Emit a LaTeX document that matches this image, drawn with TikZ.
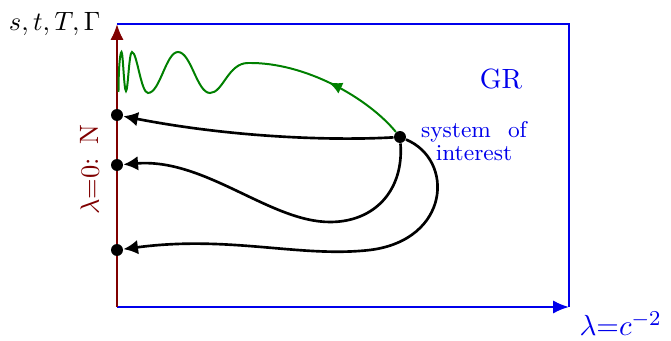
\documentclass[tikz,border=0pt]{standalone}
\usetikzlibrary{arrows.meta,decorations.markings}
\definecolor{axred}{RGB}{128,0,0}
\definecolor{grblue}{RGB}{0,0,235}
\definecolor{wgreen}{RGB}{0,128,0}
\begin{document}
\begin{tikzpicture}[x=0.3774pt,y=-0.3774pt,
  dot/.style={circle,fill=black,inner sep=0pt,minimum size=4.5pt},
  axisline/.style={axred,line width=0.8pt},
  frameline/.style={grblue,line width=0.8pt},
  bigtip/.style={-{Latex[length=6pt,width=5pt]}},
  worldline/.style={black,line width=1pt,-{Latex[length=5.5pt,width=5.5pt]}},
  signal/.style={wgreen,line width=0.75pt},
  lbl/.style={inner sep=0pt}]
\useasboundingbox (0,0) rectangle (671,341);
% frame and axis
\coordinate (O) at (117,307);
\coordinate (top) at (117,24);
\coordinate (tr) at (569,24);
\coordinate (br) at (569,307);
\draw[frameline] (top) -- (tr) -- (br);
\draw[frameline,bigtip] (O) -- (br);
\draw[axisline,bigtip] (O) -- (top);
% dots
\node[dot] (d1) at (117,115) {};
\node[dot] (d2) at (117,165) {};
\node[dot] (d3) at (117,250) {};
\node[dot] (sys) at (400,137) {};
% world lines
\draw[worldline] (sys) .. controls (330,141) and (230,137) .. (d1);
\draw[worldline] (sys) .. controls (404,190) and (375,222) .. (330,222)
   .. controls (270,222) and (205,158) .. (d2);
\draw[worldline] (sys) .. controls (455,160) and (450,240) .. (370,250)
   .. controls (300,258) and (230,235) .. (d3);
% signal
\coordinate (g0) at (248,63);
\draw[signal,postaction={decorate},decoration={markings,
   mark=at position 0.5 with {\arrow{Latex[length=5pt,width=4.5pt]}}}]
   (sys) .. controls (368,98) and (305,62) .. (g0);
\draw[signal] (g0) .. controls (228,63) and (223,93) .. (210,93)
   .. controls (197,93) and (191,52) .. (178,52)
   .. controls (166,52) and (160,93) .. (148,93)
   .. controls (141,93) and (137,52) .. (132,52)
   .. controls (129,52) and (128,91) .. (126,91)
   .. controls (124,91) and (123,52) .. (121.5,52)
   .. controls (120,52) and (118.5,70) .. (118.5,92);
% labels
\node[lbl,anchor=base east] (ylab) at (101,30.5) {$s,t,T,\Gamma$};
\node[lbl,text=grblue,anchor=base,font=\fontsize{10.5}{12}\selectfont] (gr) at (501,89) {GR};
\node[lbl,text=grblue,align=center,font=\fontsize{8.6}{8.6}\selectfont] (soi) at (474,141) {system\hspace{0.75em}of\\interest};
\node[lbl,text=grblue,anchor=base west,font=\fontsize{11}{13}\selectfont] (lam) at (579,336) {$\lambda{=}c^{-2}$};
\node[lbl,text=axred,rotate=90,anchor=base,font=\fontsize{10}{12}\selectfont] (lab0) at (99,170) {$\lambda{=}0$:\hspace{0.5em}N};
\end{tikzpicture}
\end{document}
